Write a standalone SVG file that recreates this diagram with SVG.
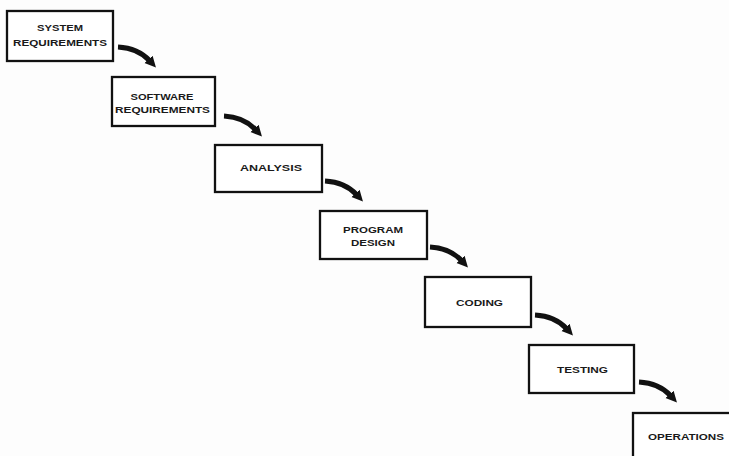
<svg xmlns="http://www.w3.org/2000/svg" width="729" height="456" viewBox="0 0 729 456">
  <style>
    .box { fill: #ffffff; stroke: #111111; stroke-width: 2.3; }
    .lbl { font-family: "Liberation Sans", Arial, sans-serif; font-weight: bold; font-size: 9px; fill: #1a1a1a; text-anchor: middle; }
    .arr { fill: none; stroke: #111111; stroke-width: 5; stroke-linecap: butt; marker-end: url(#head); }
  </style>
  <defs>
    <marker id="head" viewBox="0 0 10 10" refX="2" refY="5" markerWidth="11" markerHeight="12" markerUnits="userSpaceOnUse" orient="auto">
      <path d="M0,0 L10,5 L0,10 z" fill="#111111"/>
    </marker>
  </defs>
  <rect width="729" height="456" fill="#fdfdfd"/>

  <g id="connectors">
    <path class="arr" d="M118,47 q20,1 32,14"/>
    <path class="arr" d="M224,116 q20,1 32,14"/>
    <path class="arr" d="M325,181 q20,1 32,14"/>
    <path class="arr" d="M430,247 q20,1 32,14"/>
    <path class="arr" d="M535,315 q20,1 32,14"/>
    <path class="arr" d="M639,382 q20,1 32,14"/>
  </g>

  <g id="system-requirements">
    <rect class="box" x="7" y="11" width="106" height="50"/>
    <text class="lbl" x="60" y="31" textLength="46" lengthAdjust="spacingAndGlyphs">SYSTEM</text>
    <text class="lbl" x="60" y="46" textLength="94" lengthAdjust="spacingAndGlyphs">REQUIREMENTS</text>
  </g>

  <g id="software-requirements">
    <rect class="box" x="112" y="77" width="103" height="49"/>
    <text class="lbl" x="162" y="100" textLength="63" lengthAdjust="spacingAndGlyphs">SOFTWARE</text>
    <text class="lbl" x="162.5" y="113" textLength="95" lengthAdjust="spacingAndGlyphs">REQUIREMENTS</text>
  </g>

  <g id="analysis">
    <rect class="box" x="215" y="145" width="107" height="47"/>
    <text class="lbl" x="271" y="171" textLength="62" lengthAdjust="spacingAndGlyphs">ANALYSIS</text>
  </g>

  <g id="program-design">
    <rect class="box" x="320" y="211" width="107" height="48"/>
    <text class="lbl" x="373" y="233" textLength="60" lengthAdjust="spacingAndGlyphs">PROGRAM</text>
    <text class="lbl" x="373" y="246" textLength="44" lengthAdjust="spacingAndGlyphs">DESIGN</text>
  </g>

  <g id="coding">
    <rect class="box" x="425" y="277" width="106" height="50"/>
    <text class="lbl" x="479.5" y="306" textLength="47" lengthAdjust="spacingAndGlyphs">CODING</text>
  </g>

  <g id="testing">
    <rect class="box" x="529" y="345" width="105" height="48"/>
    <text class="lbl" x="582.5" y="373" textLength="51" lengthAdjust="spacingAndGlyphs">TESTING</text>
  </g>

  <g id="operations">
    <rect class="box" x="633" y="413" width="110" height="60"/>
    <text class="lbl" x="686" y="440" textLength="76" lengthAdjust="spacingAndGlyphs">OPERATIONS</text>
  </g>
</svg>
